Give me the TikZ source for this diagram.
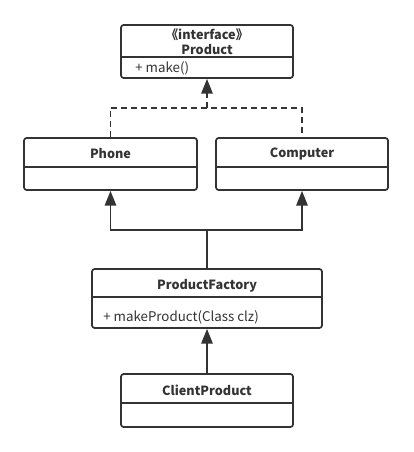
\documentclass[tikz,border=0pt]{standalone}
\usepackage{fontspec}
\setmainfont{Noto Sans CJK SC}
\usetikzlibrary{arrows.meta}
\definecolor{umlline}{HTML}{333333}
\begin{document}
\begin{tikzpicture}%
	[x=0.75pt,
	y=-0.75pt,
	classbox/.style={draw=umlline, line width=1.3pt, rounded corners=2pt, inner sep=0pt},
	divider/.style={draw=umlline, line width=1.2pt},
	title/.style={font=\bfseries\fontsize{9.5}{11.25}\selectfont, text=umlline, inner sep=0pt, align=center},
	member/.style={font=\fontsize{10}{11.25}\selectfont, text=umlline, inner sep=0pt, anchor=west},
	realize/.style={draw=umlline, line width=1.3pt, dash pattern=on 4.5pt off 3pt},
	extend/.style={draw=umlline, line width=1.3pt},
	tip/.style={-{Triangle[length=11pt,width=8.5pt]}}]
%
\useasboundingbox (0,0) rectangle (413,452);
%%
%% Drawing the classes
%%
\node[classbox, minimum width=129pt, minimum height=39.75pt] (product) at (207,51.5) {};
\draw[divider] (product.north west) ++(0,33) -- ++(172,0);
\node[title] (producttitle) at (207,42) {《interface》\\Product};
\node[member] (productmake) at (135,68) {+ make()};

\node[classbox, minimum width=129.75pt, minimum height=39pt] (phone) at (110.5,164) {};
\draw[divider] (phone.north west) ++(0,30) -- ++(173,0);
\node[title] (phonetitle) at (110.5,154) {Phone};

\node[classbox, minimum width=129pt, minimum height=39pt] (computer) at (302,164) {};
\draw[divider] (computer.north west) ++(0,30) -- ++(172,0);
\node[title] (computertitle) at (302,154) {Computer};

\node[classbox, minimum width=172.5pt, minimum height=44.25pt] (factory) at (207,298.5) {};
\draw[divider] (factory.north west) ++(0,29) -- ++(230,0);
\node[title] (factorytitle) at (207,286) {ProductFactory};
\node[member] (factorymake) at (103,317) {+ makeProduct(Class clz)};

\node[classbox, minimum width=129pt, minimum height=39.75pt] (client) at (207,400.5) {};
\draw[divider] (client.north west) ++(0,30) -- ++(172,0);
\node[title] (clienttitle) at (207,390) {ClientProduct};
%%
%% Drawing the connectors
%%
\coordinate (realizejoin) at (207,108);
\coordinate (extendjoin) at (207,230);
\draw[realize] (phone.north) |- (computer.north |- realizejoin) -- (computer.north);
\draw[realize, tip] (realizejoin) -- (product.south);
\draw[extend] (factory.north) -- (extendjoin);
\draw[extend, tip] (extendjoin) -| (phone.south);
\draw[extend, tip] (extendjoin) -| (computer.south);
\draw[extend, tip] (client.north) -- (factory.south);
\end{tikzpicture}
\end{document}
